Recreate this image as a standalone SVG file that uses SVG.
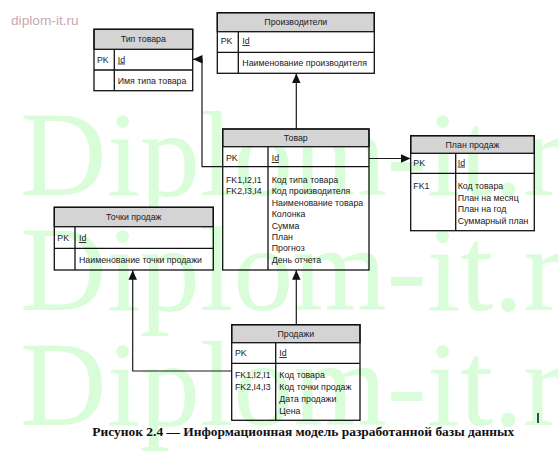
<svg xmlns="http://www.w3.org/2000/svg" width="558" height="457" viewBox="0 0 558 457">
<defs>
<style>
.wm{font-family:"Liberation Serif","Times New Roman",serif;font-size:120px;fill:#d9fcd9}
.box{fill:none;stroke:#111;stroke-width:1.3}
.hdr{fill:#d4d4d4;stroke:#111;stroke-width:1.3}
.ln{stroke:#111;stroke-width:1.3}
.t{font-family:"Liberation Sans",Arial,sans-serif;font-size:8.8px;fill:#1a1a1a}
.c{text-anchor:middle}
.u{text-decoration:underline}
.con{fill:none;stroke:#1a1a1a;stroke-width:1.2}
</style>
<marker id="ah" markerUnits="userSpaceOnUse" markerWidth="10" markerHeight="9" refX="9.5" refY="4.25" orient="auto">
<path d="M0,0 L9.5,4.25 L0,8.5 z" fill="#111"/>
</marker>
</defs>
<rect width="558" height="457" fill="#fff"/>
<text class="wm" x="20" y="195">Diplom-it.ru</text>
<text class="wm" x="20" y="310">Diplom-it.ru</text>
<text class="wm" x="20" y="425">Diplom-it.ru</text>
<text x="11" y="25" style="font-family:'Liberation Sans',Arial,sans-serif;font-size:13.7px;fill:#c8a8b0">diplom-it.ru</text>

<g id="connectors">
<polyline class="con" points="222.7,166.7 202,166.7 202,59.3 193,59.3" marker-end="url(#ah)"/>
<line class="con" x1="296.3" y1="129" x2="296.3" y2="73.5" marker-end="url(#ah)"/>
<line class="con" x1="369" y1="158.5" x2="410.5" y2="158.5" marker-end="url(#ah)"/>
<line class="con" x1="296.3" y1="324.7" x2="296.3" y2="270.3" marker-end="url(#ah)"/>
<polyline class="con" points="231.7,371 132.7,371 132.7,270.3" marker-end="url(#ah)"/>
</g>

<g id="tip-tovara">
<rect class="hdr" x="94" y="29.3" width="98.7" height="20"/>
<rect class="box" x="94" y="29.3" width="98.7" height="61.4"/>
<line class="ln" x1="94" y1="70" x2="192.7" y2="70"/>
<line class="ln" x1="114.3" y1="49.3" x2="114.3" y2="90.7"/>
<text class="t c" x="143.3" y="42.2">Тип товара</text>
<text class="t" x="97" y="62.5">PK</text>
<text class="t u" x="117.7" y="62.5">Id</text>
<text class="t" x="117.7" y="84">Имя типа товара</text>
</g>

<g id="proizvoditeli">
<rect class="hdr" x="217.3" y="12.7" width="157" height="19"/>
<rect class="box" x="217.3" y="12.7" width="157" height="60.6"/>
<line class="ln" x1="217.3" y1="52.3" x2="374.3" y2="52.3"/>
<line class="ln" x1="238.3" y1="31.7" x2="238.3" y2="73.3"/>
<text class="t c" x="295.8" y="24.9">Производители</text>
<text class="t" x="220.7" y="44">PK</text>
<text class="t u" x="242.3" y="44">Id</text>
<text class="t" x="242.3" y="65.8">Наименование производителя</text>
</g>

<g id="tovar">
<rect class="hdr" x="222.7" y="129" width="146.3" height="17.7"/>
<rect class="box" x="222.7" y="129" width="146.3" height="141"/>
<line class="ln" x1="222.7" y1="166.7" x2="369" y2="166.7"/>
<line class="ln" x1="268" y1="146.7" x2="268" y2="270"/>
<text class="t c" x="295.8" y="140.6">Товар</text>
<text class="t" x="226" y="161">PK</text>
<text class="t u" x="271.7" y="161">Id</text>
<text class="t" x="226" y="183">FK1,I2,I1</text>
<text class="t" x="226" y="194.4">FK2,I3,I4</text>
<text class="t" x="271.7" y="183">Код типа товара</text>
<text class="t" x="271.7" y="194.4">Код производителя</text>
<text class="t" x="271.7" y="205.8">Наименование товара</text>
<text class="t" x="271.7" y="217.2">Колонка</text>
<text class="t" x="271.7" y="228.6">Сумма</text>
<text class="t" x="271.7" y="240">План</text>
<text class="t" x="271.7" y="251.4">Прогноз</text>
<text class="t" x="271.7" y="262.8">День отчета</text>
</g>

<g id="plan-prodazh">
<rect class="hdr" x="410.7" y="135.7" width="123.6" height="17.6"/>
<rect class="box" x="410.7" y="135.7" width="123.6" height="95"/>
<line class="ln" x1="410.7" y1="173.3" x2="534.3" y2="173.3"/>
<line class="ln" x1="455.7" y1="153.3" x2="455.7" y2="230.7"/>
<text class="t c" x="472.5" y="147.6">План продаж</text>
<text class="t" x="413.3" y="165.6">PK</text>
<text class="t u" x="457.7" y="165.6">Id</text>
<text class="t" x="413.3" y="189">FK1</text>
<text class="t" x="457.7" y="189">Код товара</text>
<text class="t" x="457.7" y="200.5">План на месяц</text>
<text class="t" x="457.7" y="212">План на год</text>
<text class="t" x="457.7" y="223.5">Суммарный план</text>
</g>

<g id="tochki-prodazh">
<rect class="hdr" x="54.3" y="207.3" width="159" height="19.4"/>
<rect class="box" x="54.3" y="207.3" width="159" height="62.7"/>
<line class="ln" x1="54.3" y1="248.3" x2="213.3" y2="248.3"/>
<line class="ln" x1="75" y1="226.7" x2="75" y2="270"/>
<text class="t c" x="133.8" y="220.4">Точки продаж</text>
<text class="t" x="57.3" y="241">PK</text>
<text class="t u" x="79" y="241">Id</text>
<text class="t" x="79" y="262.5">Наименование точки продажи</text>
</g>

<g id="prodazhi">
<rect class="hdr" x="231.7" y="324.7" width="128.3" height="18"/>
<rect class="box" x="231.7" y="324.7" width="128.3" height="95.6"/>
<line class="ln" x1="231.7" y1="363.3" x2="360" y2="363.3"/>
<line class="ln" x1="275.7" y1="342.7" x2="275.7" y2="420.3"/>
<text class="t c" x="295.8" y="336.8">Продажи</text>
<text class="t" x="235" y="356">PK</text>
<text class="t u" x="279.3" y="356">Id</text>
<text class="t" x="235" y="378.2">FK1,I2,I1</text>
<text class="t" x="235" y="390">FK2,I4,I3</text>
<text class="t" x="279.3" y="378.2">Код товара</text>
<text class="t" x="279.3" y="390">Код точки продаж</text>
<text class="t" x="279.3" y="402">Дата продажи</text>
<text class="t" x="279.3" y="413.7">Цена</text>
</g>

<line x1="538" y1="413" x2="538" y2="423" stroke="#111" stroke-width="1.5"/>
<text x="92.3" y="435.7" textLength="422" lengthAdjust="spacingAndGlyphs" style="font-family:'Liberation Serif','Times New Roman',serif;font-size:13.5px;font-weight:bold;fill:#111">Рисунок 2.4 — Информационная модель разработанной базы данных</text>
</svg>
